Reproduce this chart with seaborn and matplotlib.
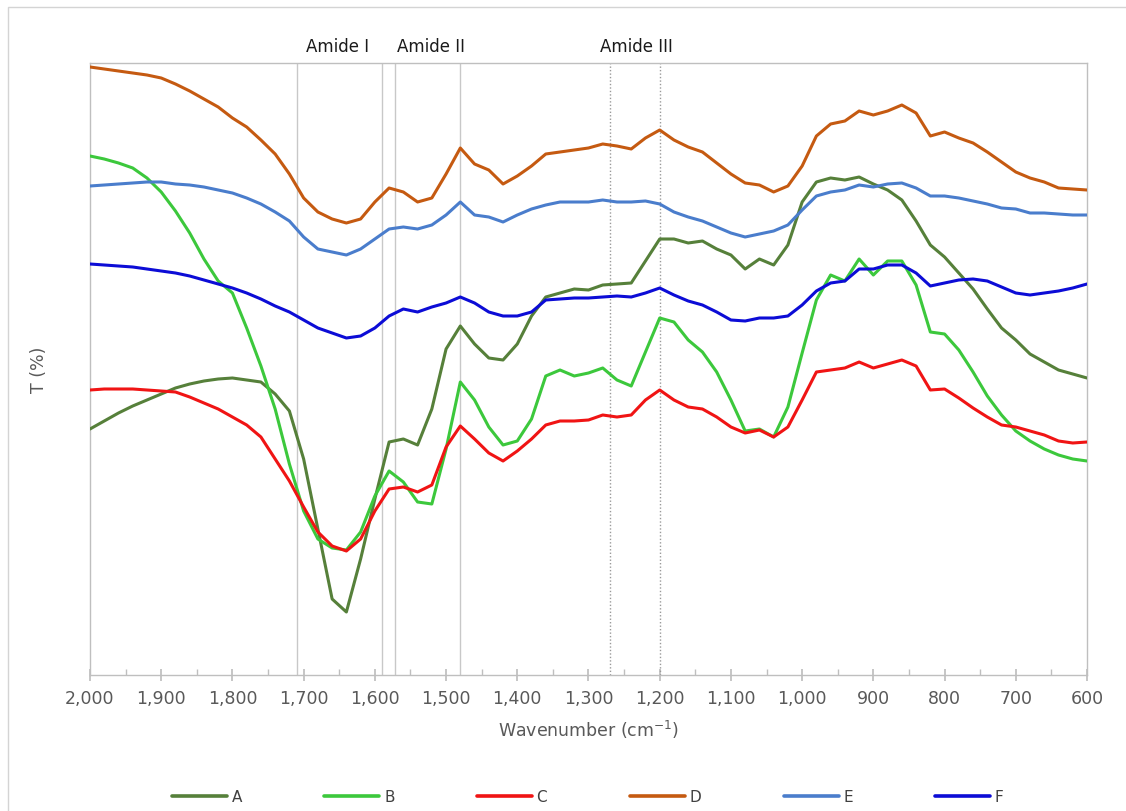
import numpy as np
import pandas as pd
import matplotlib
matplotlib.use("Agg")
import matplotlib.pyplot as plt
import seaborn as sns
from matplotlib.lines import Line2D
from matplotlib.patches import Rectangle

wavenumber = np.arange(2000, 599, -20)

A = [246, 254, 262, 269, 275, 281, 287, 291, 294, 296, 297,
     295, 293, 281, 264, 216, 146, 76, 63, 116, 176,
     233, 236, 230, 266, 326, 349, 331, 317, 315, 331,
     359, 378, 382, 386, 385, 390, 391, 392, 414, 436,
     436, 432, 434, 426, 420, 406, 416, 410, 430, 473,
     493, 497, 495, 498, 491, 485, 475, 454, 430, 418,
     402, 386, 366, 347, 335, 321, 313, 305, 301, 297]
B = [519, 516, 512, 507, 497, 483, 464, 442, 416, 394, 382,
     347, 309, 266, 211, 164, 136, 127, 125, 143, 179,
     204, 193, 173, 171, 226, 293, 275, 248, 230, 234,
     256, 299, 305, 299, 302, 307, 295, 289, 323, 357,
     353, 335, 323, 303, 275, 244, 246, 238, 268, 322,
     375, 400, 394, 416, 400, 414, 414, 390, 343, 341,
     325, 303, 279, 260, 244, 234, 226, 220, 216, 214]
C = [285, 286, 286, 286, 285, 284, 283, 278, 272, 266, 258,
     250, 238, 216, 194, 168, 143, 129, 124, 136, 164,
     186, 188, 183, 190, 228, 249, 236, 222, 214, 224,
     236, 250, 254, 254, 255, 260, 258, 260, 275, 285,
     275, 268, 266, 258, 248, 242, 245, 238, 248, 275,
     303, 305, 307, 313, 307, 311, 315, 309, 285, 286,
     277, 267, 258, 250, 248, 244, 240, 234, 232, 233]
D = [608, 606, 604, 602, 600, 597, 591, 584, 576, 568, 557,
     548, 535, 521, 501, 477, 463, 456, 452, 456, 473,
     487, 483, 473, 477, 501, 527, 511, 505, 491, 499,
     509, 521, 523, 525, 527, 531, 529, 526, 537, 545,
     535, 528, 523, 512, 501, 492, 490, 483, 489, 509,
     539, 551, 554, 564, 560, 564, 570, 562, 539, 543,
     537, 532, 523, 513, 503, 497, 493, 487, 486, 485]
E = [489, 490, 491, 492, 493, 493, 491, 490, 488, 485, 482,
     477, 471, 463, 454, 438, 426, 423, 420, 426, 436,
     446, 448, 446, 450, 460, 473, 460, 458, 453, 460,
     466, 470, 473, 473, 473, 475, 473, 473, 474, 471,
     463, 458, 454, 448, 442, 438, 441, 444, 450, 465,
     479, 483, 485, 490, 488, 491, 492, 487, 479, 479,
     477, 474, 471, 467, 466, 462, 462, 461, 460, 460]
F = [411, 410, 409, 408, 406, 404, 402, 399, 395, 391, 387,
     382, 376, 369, 363, 355, 347, 342, 337, 339, 347,
     359, 366, 363, 368, 372, 378, 372, 363, 359, 359,
     363, 375, 376, 377, 377, 378, 379, 378, 382, 387,
     380, 374, 370, 363, 355, 354, 357, 357, 359, 370,
     384, 392, 394, 406, 406, 410, 410, 402, 389, 392,
     395, 396, 394, 388, 382, 380, 382, 384, 387, 391]

samples = {"A": A, "B": B, "C": C, "D": D, "E": E, "F": F}
colors = {"A": "#56803a", "B": "#3cc83c", "C": "#f01414",
          "D": "#c55a11", "E": "#4a7dcc", "F": "#0c0cd6"}

solid_lines = [1710, 1590, 1572, 1480]
dotted_lines = [1270, 1200]
amide_labels = [("Amide I", 1652), ("Amide II", 1521), ("Amide III", 1232)]

df = pd.concat([pd.DataFrame({"Wavenumber": wavenumber, "T": vals, "Sample": name})
                for name, vals in samples.items()], ignore_index=True)

sns.set_theme(style="white")
plt.rcParams["font.family"] = ["DejaVu Sans"]

fig = plt.figure(figsize=(11.26, 8.12), dpi=100)
ax = fig.add_axes([90 / 1126, 136 / 812, 997 / 1126, 612 / 812])

for w in solid_lines:
    ax.axvline(w, color="#c8c8c8", lw=1, zorder=1)
for w in dotted_lines:
    ax.axvline(w, color="#9a9a9a", lw=1, ls=(0, (1, 1.5)), zorder=1)

sns.lineplot(data=df, x="Wavenumber", y="T", hue="Sample", palette=colors,
             linewidth=2.2, sort=False, legend=False, ax=ax, zorder=3)

ax.set_xlim(2000, 600)
ax.set_ylim(0, 612)
ax.set_yticks([])
ax.set_xticks(range(2000, 599, -100))
ax.set_xticklabels([f"{t:,}" for t in range(2000, 599, -100)],
                   fontsize=12.5, color="#595959")
ax.set_xticks(range(1950, 600, -100), minor=True)
ax.tick_params(axis="x", which="major", direction="inout", length=8,
               color="#bfbfbf", pad=6, bottom=True)
ax.tick_params(axis="x", which="minor", direction="in", length=4,
               color="#bfbfbf", bottom=True)

for s in ax.spines.values():
    s.set_color("#bfbfbf")
    s.set_linewidth(1)

ax.set_xlabel("Wavenumber (cm$^{-1}$)", fontsize=12.5, color="#595959", labelpad=8)
ax.set_ylabel("T (%)", fontsize=12.5, color="#595959", labelpad=30)

for label, w in amide_labels:
    ax.text(w, 629, label, ha="center", va="center", fontsize=12,
            color="#1a1a1a", clip_on=False)

handles = [Line2D([], [], color=colors[k], lw=2.6) for k in samples]
fig.legend(handles, list(samples), loc="center", bbox_to_anchor=(0.522, 14 / 812),
           ncol=6, frameon=False, handlelength=3.6, handletextpad=0.3,
           columnspacing=5.4, fontsize=11,
           labelcolor="#404040")

fig.patches.append(Rectangle((8 / 1126, -0.05), 1.2, 1.0401, transform=fig.transFigure,
                             fill=False, edgecolor="#d4d4d4", lw=1))

fig.savefig("out.png", dpi=100)
